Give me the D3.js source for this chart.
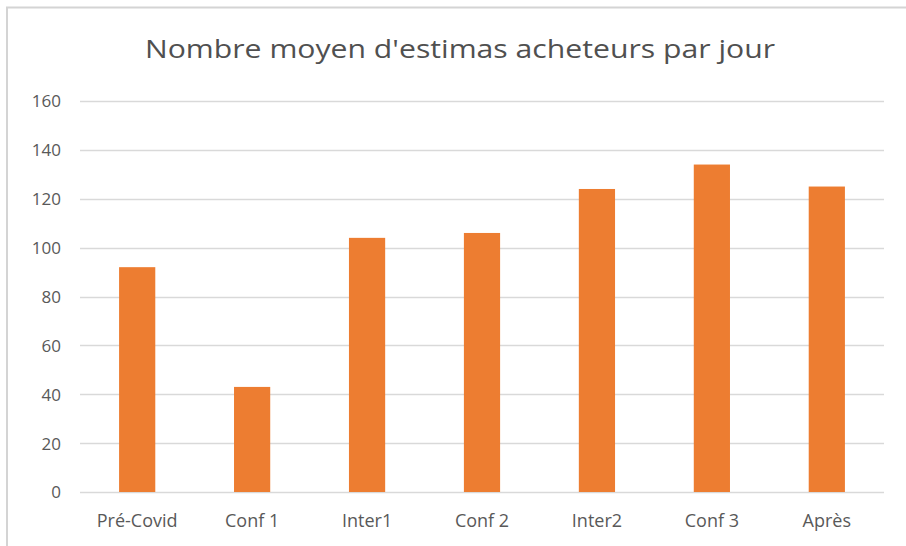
<!DOCTYPE html>
<html><head><meta charset="utf-8">
<script src="https://cdn.jsdelivr.net/npm/d3@7"></script>
<style>body{margin:0;background:#fff}svg{display:block}text{font-family:"Open Sans","Liberation Sans",sans-serif}</style>
</head><body>
<script>
const categories = ["Pré-Covid","Conf 1","Inter1","Conf 2","Inter2","Conf 3","Après"];
const values = [92, 43, 104, 106, 124, 134, 125];
const yTicks = [0,20,40,60,80,100,120,140,160];
const title = "Nombre moyen d'estimas acheteurs par jour";

const W = 906, H = 546;
const svg = d3.select("body").append("svg").attr("width", W).attr("height", H);
svg.append("rect").attr("width", W).attr("height", H).attr("fill", "#fff");
// frame (top + left)
svg.append("line").attr("x1", 6).attr("x2", W).attr("y1", 7.5).attr("y2", 7.5).attr("stroke", "#d4d4d4").attr("stroke-width", 2);
svg.append("line").attr("x1", 7).attr("x2", 7).attr("y1", 7).attr("y2", H).attr("stroke", "#d4d4d4").attr("stroke-width", 2);

const x = d3.scaleBand().domain(categories).range([80, 884]).paddingInner(0.685).paddingOuter(0.34);
const y = d3.scaleLinear().domain([0, 160]).range([492, 101]);

// grid
svg.append("g").selectAll("line").data(yTicks).join("line")
  .attr("x1", 80).attr("x2", 884)
  .attr("y1", d => Math.round(y(d)) + 0.5).attr("y2", d => Math.round(y(d)) + 0.5)
  .attr("stroke", "#d9d9d9").attr("stroke-width", 1.3);

// y axis labels
const yAxis = d3.axisLeft(y).tickValues(yTicks).tickSize(0).tickPadding(0);
const gy = svg.append("g").attr("transform", "translate(61,0)").call(yAxis);
gy.select(".domain").remove();
gy.selectAll("text").attr("fill", "#595959").style("font-size", "17px").attr("dy", "0.35em");

// bars
svg.append("g").selectAll("rect").data(values).join("rect")
  .attr("x", (d, i) => x(categories[i]))
  .attr("width", x.bandwidth())
  .attr("y", d => y(d))
  .attr("height", d => y(0) - y(d))
  .attr("fill", "#ed7d31");

// x axis labels
const xAxis = d3.axisBottom(x).tickSize(0).tickPadding(0);
const gx = svg.append("g").attr("transform", "translate(0,527)").call(xAxis);
gx.select(".domain").remove();
gx.selectAll("text").attr("fill", "#595959").style("font-size", "18px").attr("dy", "0");

// title
svg.append("text").attr("x", 460).attr("y", 58).attr("text-anchor", "middle")
  .attr("fill", "#505050").style("font-size", "25px")
  .attr("textLength", 630).attr("lengthAdjust", "spacingAndGlyphs")
  .text(title);
</script>
</body></html>
